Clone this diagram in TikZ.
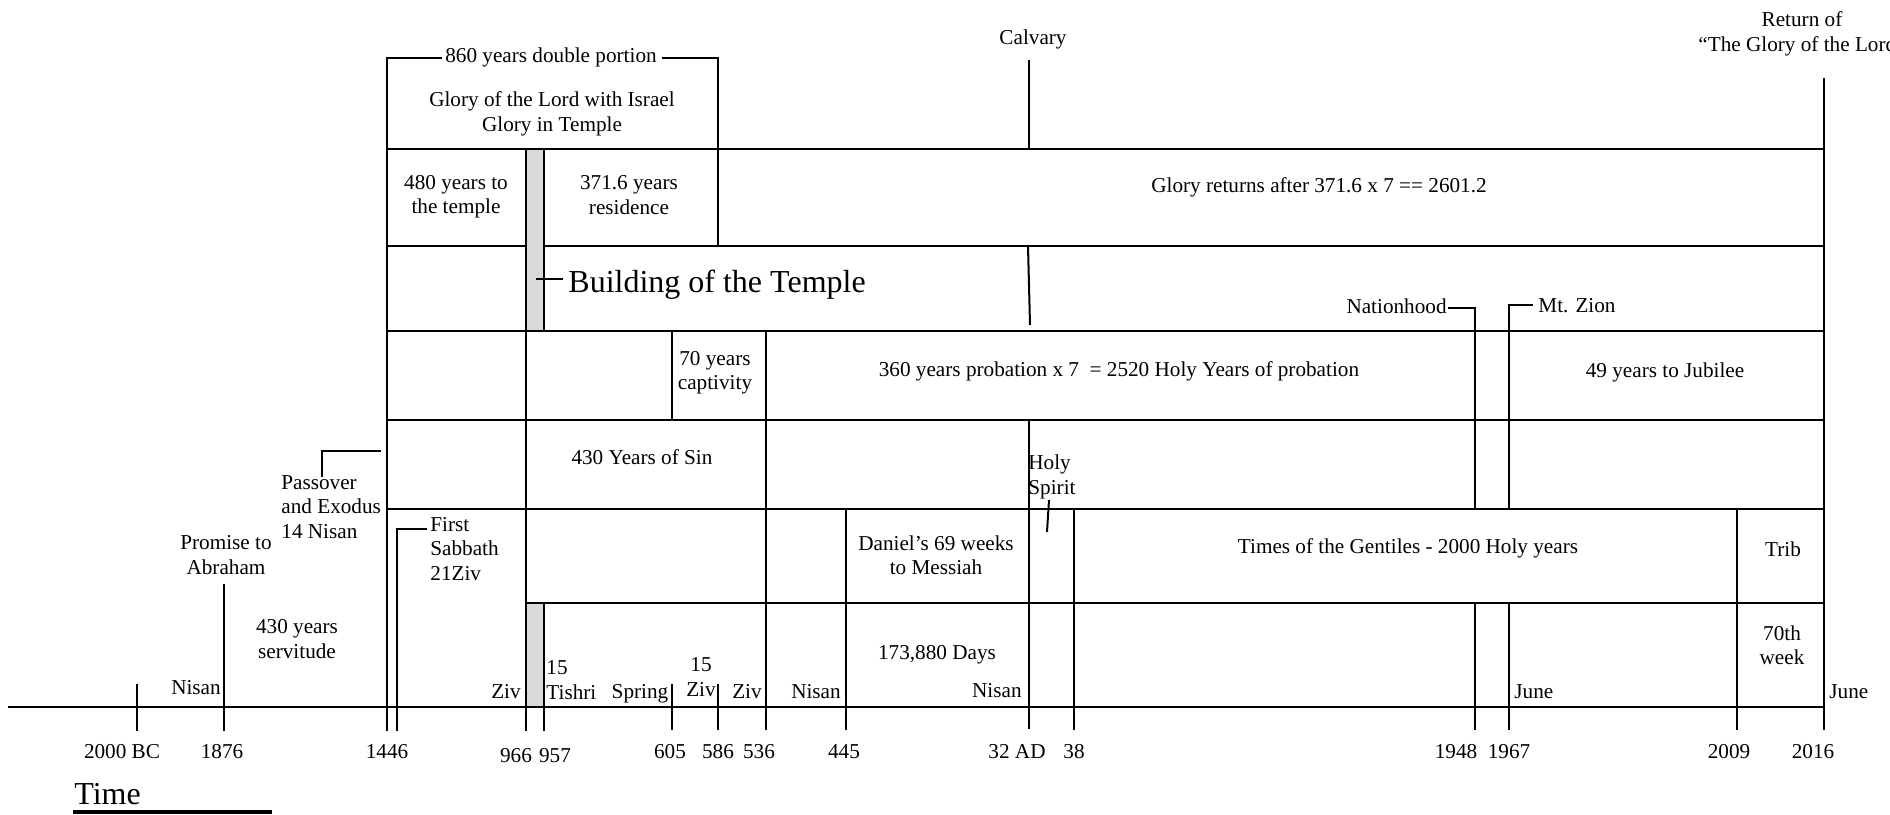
\documentclass[tikz,border=0pt]{standalone}
\usepackage{fontspec}
\setmainfont{Liberation Serif}
\definecolor{tmpgray}{RGB}{217,217,217}
\begin{document}
\begin{tikzpicture}[x=0.5pt,y=-0.5pt,
  ln/.style={line width=1.35pt},
  thinln/.style={line width=1pt},
  txt/.style={font=\fontsize{10.6}{12.2}\selectfont, inner sep=0pt, align=center},
  big/.style={font=\fontsize{16}{19}\selectfont, inner sep=0pt}]
\useasboundingbox (0,0) rectangle (1890,814);
% gray boxes
\fill[tmpgray] (526,149) rectangle (544,331);
\fill[tmpgray] (526,603) rectangle (544,707);
% axis
\draw[ln] (8,707) -- (1824,707);
% horizontal rows
\draw[ln] (387,149) -- (1824,149);
\draw[ln] (387,246) -- (526,246) (544,246) -- (1824,246);
\draw[ln] (387,331) -- (1824,331);
\draw[ln] (387,420) -- (1824,420);
\draw[ln] (387,509) -- (1824,509);
\draw[ln] (526,603) -- (1824,603);
% verticals
\draw[ln] (137,684) -- (137,731);
\draw[ln] (224,584) -- (224,731);
\draw[ln] (442,58) -- (387,58) -- (387,731);
\draw[ln] (427,529) -- (397,529) -- (397,731);
\draw[ln] (526,149) -- (526,731);
\draw[ln] (544,149) -- (544,331) (544,603) -- (544,731);
\draw[ln] (672,331) -- (672,420) (672,684) -- (672,730);
\draw[ln] (662,58) -- (718,58) -- (718,246) (718,684) -- (718,730);
\draw[ln] (766,331) -- (766,730);
\draw[ln] (846,509) -- (846,730);
\draw[ln] (1029,60) -- (1029,149);
\draw[thinln] (1028,246) -- (1030,325);
\draw[ln] (1029,419) -- (1029,729);
\draw[ln] (1074,509) -- (1074,730);
\draw[ln] (1448,308) -- (1475,308) -- (1475,509) (1475,603) -- (1475,730);
\draw[ln] (1533,305) -- (1509,305) -- (1509,509) (1509,603) -- (1509,730);
\draw[ln] (1737,509) -- (1737,730);
\draw[ln] (1824,78) -- (1824,730);
% small marks
\draw[ln] (322,477) -- (322,451) -- (381,451);
\draw[thinln] (1049,500) -- (1047,532);
\draw[ln] (536,279) -- (563,279);
% Time underline
\draw[line width=2pt] (73,812) -- (272,812);
% texts
\node[txt] (dbl) at (551,57) {860 years double portion};
\node[txt] (glory) at (552,114) {Glory of the Lord with Israel\\Glory in Temple};
\node[txt] (t480) at (456,197) {480 years to\\the temple};
\node[txt] (res) at (629,195) {371.6 years\\residence};
\node[txt] (ret) at (1319,187) {Glory returns after 371.6 x 7 == 2601.2};
\node[txt] (calv) at (1033,39) {Calvary};
\node[txt] (retof) at (1802,34) {Return of\\“The Glory of the Lord”};
\node[big, anchor=west] (build) at (568,285) {Building of the Temple};
\node[txt, anchor=east] (nation) at (1447,306) {Nationhood};
\node[txt, anchor=west] (zion) at (1538,306) {Mt. Zion};
\node[txt] (capt) at (715,373) {70 years\\captivity};
\node[txt] (prob) at (1119,371) {360 years probation x 7 \ = 2520 Holy Years of probation};
\node[txt] (jub) at (1665,372) {49 years to Jubilee};
\node[txt] (sin) at (642,457) {430 Years of Sin};
\node[txt, anchor=west, align=left] (holy) at (1028,477) {Holy\\Spirit};
\node[txt, anchor=west, align=left] (pass) at (281,507) {Passover\\and Exodus\\14 Nisan};
\node[txt] (prom) at (226,555) {Promise to\\Abraham};
\node[txt, anchor=west, align=left] (sabb) at (430,549) {First\\Sabbath\\21Ziv};
\node[txt] (dan) at (936,555) {Daniel’s 69 weeks\\to Messiah};
\node[txt] (gent) at (1408,548) {Times of the Gentiles - 2000 Holy years};
\node[txt] (trib) at (1783,549) {Trib};
\node[txt] (serv) at (297,639) {430 years\\servitude};
\node[txt] (days) at (937,655) {173,880 Days};
\node[txt] (week) at (1782,645) {70th\\week};
\node[txt] (nis1) at (196,688) {Nisan};
\node[txt] (ziv1) at (506,692) {Ziv};
\node[txt, anchor=west, align=left] (tish) at (546,680) {15\\Tishri};
\node[txt] (spr) at (640,694) {Spring};
\node[txt] (ziv2) at (701,677) {15\\Ziv};
\node[txt] (ziv3) at (747,692) {Ziv};
\node[txt] (nis2) at (816,692) {Nisan};
\node[txt, anchor=east] (nis3) at (1022,691) {Nisan};
\node[txt, anchor=west] (jun1) at (1514,692) {June};
\node[txt, anchor=west] (jun2) at (1829,692) {June};
% years
\node[txt] (y1) at (122,752) {2000 BC};
\node[txt] (y2) at (222,752) {1876};
\node[txt] (y3) at (387,752) {1446};
\node[txt] (y4) at (516,756) {966};
\node[txt] (y5) at (555,756) {957};
\node[txt] (y6) at (670,752) {605};
\node[txt] (y7) at (718,752) {586};
\node[txt] (y8) at (759,752) {536};
\node[txt] (y9) at (844,752) {445};
\node[txt] (y10) at (1017,752) {32 AD};
\node[txt] (y11) at (1074,752) {38};
\node[txt] (y12) at (1456,752) {1948};
\node[txt] (y13) at (1509,752) {1967};
\node[txt] (y14) at (1729,752) {2009};
\node[txt] (y15) at (1813,752) {2016};
\node[big, anchor=west] (time) at (74,794) {Time};
\end{tikzpicture}
\end{document}
